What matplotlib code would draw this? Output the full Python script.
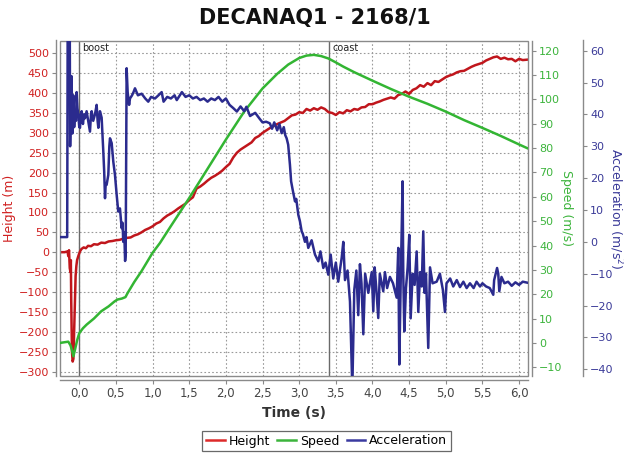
import numpy as np
import matplotlib.pyplot as plt
from matplotlib.patches import Rectangle

# ---- data ----
height_t = [-0.26, -0.20, -0.16, -0.15, -0.14, -0.13, -0.12, -0.115, -0.11, -0.10,
            -0.09, -0.08, -0.07, -0.06, -0.05, -0.04, -0.03, -0.01, 0.01, 0.03,
            0.06, 0.09, 0.12, 0.16, 0.20, 0.25, 0.30, 0.35, 0.40, 0.45,
            0.50, 0.55, 0.60, 0.65, 0.70, 0.75, 0.80, 0.85, 0.90, 0.95,
            1.00, 1.05, 1.10, 1.15, 1.20, 1.25, 1.30, 1.35, 1.40, 1.45,
            1.50, 1.55, 1.60, 1.65, 1.70, 1.75, 1.80, 1.85, 1.90, 1.95,
            2.00, 2.05, 2.10, 2.15, 2.20, 2.25, 2.30, 2.35, 2.40, 2.45,
            2.50, 2.55, 2.60, 2.65, 2.70, 2.75, 2.80, 2.85, 2.90, 2.95,
            3.00, 3.05, 3.10, 3.15, 3.20, 3.25, 3.30, 3.35, 3.40, 3.45,
            3.50, 3.55, 3.60, 3.65, 3.70, 3.75, 3.80, 3.85, 3.90, 3.95,
            4.00, 4.05, 4.10, 4.15, 4.20, 4.25, 4.30, 4.35, 4.40, 4.45,
            4.50, 4.55, 4.60, 4.65, 4.70, 4.75, 4.80, 4.85, 4.90, 4.95,
            5.00, 5.05, 5.10, 5.15, 5.20, 5.25, 5.30, 5.35, 5.40, 5.45,
            5.50, 5.55, 5.60, 5.65, 5.70, 5.75, 5.80, 5.85, 5.90, 5.95,
            6.00, 6.05, 6.11]
height_m = [0, 0, 2, -10, 5, -40, -50, -20, -120, -250,
            -275, -268, -200, -130, -60, -35, -20, -8, 2, 8,
            12, 10, 16, 15, 20, 19, 24, 23, 27, 28,
            30, 31, 34, 36, 37, 42, 45, 50, 56, 60,
            65, 72, 76, 85, 92, 97, 103, 110, 116, 122,
            131, 138, 160, 165, 172, 180, 187, 192, 198, 205,
            214, 222, 238, 250, 258, 264, 270, 276, 287, 292,
            300, 306, 312, 317, 322, 326, 330, 337, 344, 346,
            352, 350, 360, 356, 362, 358, 364, 360, 352, 350,
            345, 352, 349, 357, 354, 360, 358, 364, 365, 372,
            372, 376, 379, 383, 386, 389, 386, 395, 398, 404,
            398, 408, 412, 420, 416, 425, 420, 430, 428, 434,
            440, 444, 447, 452, 455, 456, 461, 466, 470, 473,
            476, 482, 486, 490, 492, 486, 489, 485, 486, 480,
            486, 483, 484]

speed_t = [-0.26, -0.15, -0.12, -0.10, -0.08, -0.06, -0.03, 0.00, 0.05, 0.10,
           0.20, 0.30, 0.40, 0.48, 0.52, 0.58, 0.63, 0.66, 0.75, 0.85,
           1.00, 1.10, 1.25, 1.50, 1.75, 2.00, 2.25, 2.50, 2.70, 2.85,
           3.00, 3.10, 3.20, 3.30, 3.40, 3.50, 3.60, 3.75, 4.00, 4.25,
           4.50, 4.75, 5.00, 5.25, 5.50, 5.75, 6.00, 6.11]
speed_ms = [0, 0.5, -1, -3, -5.5, -3, 1, 4, 6, 7.5,
            10, 13, 15, 17, 17.8, 18.2, 18.8, 20.5, 25, 29.5,
            37, 41, 48, 59.5, 71.5, 83.5, 95, 104.5, 110.5, 114.3,
            117, 118, 118.3, 117.8, 116.8, 115.2, 113.5, 111.2, 107.7, 104.3,
            101.1, 98.2, 95, 91.5, 88.3, 85, 81.5, 80]

accel_t = [-0.26, -0.165, -0.158, -0.150, -0.13, -0.125, -0.115, -0.105, -0.095, -0.082,
           -0.07, -0.059, -0.045, -0.036, -0.025, -0.014, 0.00, 0.01, 0.02, 0.033,
           0.05, 0.065, 0.078, 0.10, 0.123, 0.146, 0.16, 0.169, 0.19, 0.214,
           0.237, 0.25, 0.26, 0.282, 0.305, 0.328, 0.34, 0.351, 0.36, 0.373,
           0.396, 0.41, 0.419, 0.442, 0.464, 0.487, 0.51, 0.532, 0.555, 0.578,
           0.59, 0.60, 0.614, 0.625, 0.633, 0.646, 0.66, 0.68, 0.692, 0.72,
           0.74, 0.76, 0.80, 0.851, 0.90, 0.941, 0.98, 1.033, 1.08, 1.124,
           1.15, 1.20, 1.25, 1.30, 1.33, 1.40, 1.45, 1.50, 1.55, 1.60,
           1.65, 1.70, 1.75, 1.80, 1.85, 1.90, 1.95, 2.00, 2.05, 2.10,
           2.15, 2.20, 2.25, 2.28, 2.33, 2.40, 2.465, 2.50, 2.55, 2.60,
           2.63, 2.66, 2.70, 2.73, 2.761, 2.79, 2.81, 2.829, 2.85, 2.874,
           2.89, 2.91, 2.943, 2.96, 2.988, 3.01, 3.034, 3.05, 3.079, 3.10,
           3.124, 3.17, 3.216, 3.261, 3.29, 3.329, 3.36, 3.397, 3.43, 3.465,
           3.50, 3.533, 3.58, 3.602, 3.625, 3.66, 3.693, 3.725, 3.752, 3.78,
           3.806, 3.829, 3.85, 3.875, 3.90, 3.943, 3.99, 4.011, 4.03, 4.05,
           4.079, 4.10, 4.147, 4.17, 4.20, 4.238, 4.28, 4.33, 4.352, 4.366,
           4.384, 4.411, 4.42, 4.434, 4.457, 4.48, 4.502, 4.521, 4.548, 4.575,
           4.603, 4.625, 4.65, 4.672, 4.693, 4.71, 4.73, 4.761, 4.785, 4.82,
           4.876, 4.92, 4.96, 4.989, 5.01, 5.06, 5.102, 5.15, 5.194, 5.24,
           5.285, 5.33, 5.38, 5.42, 5.467, 5.50, 5.55, 5.60, 5.648, 5.66,
           5.70, 5.716, 5.73, 5.76, 5.80, 5.85, 5.90, 5.95, 6.00, 6.05,
           6.11]
accel_ms2 = [1.5, 1.5, 70, 70, 70, 30, 44, 52, 34, 46,
             36, 40, 38, 47, 42, 40, 36, 35.8, 40, 41,
             37, 40, 38.8, 41, 37.7, 34.6, 40, 41, 38, 40,
             43, 38, 35.8, 41, 39, 28.3, 22, 13.7, 18, 17.9,
             21, 30, 32.5, 31, 25.2, 21, 14.8, 9.5, 10.5, 4.3,
             6, 0, 3, -6, -4, 54.5, 47, 43, 45, 46,
             47, 48.2, 46, 46.5, 45, 44, 45.5, 45, 46, 47,
             44, 45.5, 45, 46, 44.5, 47, 45.5, 46, 45, 45.5,
             44.5, 45, 44, 45, 44.5, 45.5, 44, 45, 43, 42,
             40.9, 42.5, 41, 42.4, 39.5, 40.5, 38.5, 37.5, 37.7, 37.2,
             35.5, 37.5, 35, 37, 34.1, 36, 33.5, 32.5, 30.5, 24.2,
             19, 16.5, 12.7, 13.5, 8.5, 6.5, 3.3, 2.5, 0, 1.5,
             -1.9, 0.5, -4, -6.1, -3, -8.2, -6.5, -10.3, -4, -11.5,
             -6.5, -12.5, -5, 0, -12, -9, -18.7, -46, -15, -9,
             -23, -7, -13, -29, -10, -16, -9.5, -21.8, -8, -14,
             -23.9, -10, -15.5, -9.5, -14.5, -11, -13, -17.5, -1.9, -38.5,
             -14, 19, -10, -28.1, -14.5, -8, 2.2, -24, -10, -13.5,
             -3, -22, -9.5, -14, 3.3, -16, -10, -33.3, -8, -13,
             -12.5, -10, -15, -22, -13, -11.5, -14, -12, -14.2, -12.5,
             -14.5, -13, -14.5, -12.5, -14, -13, -14, -14.5, -16.6, -12,
             -8.2, -10, -15.5, -11, -13, -12.5, -13.8, -12.7, -13.5, -12.5,
             -12.8]

phase_t = [0.0, 3.41]
phase_names = ["boost", "coast"]

time_ticks = [0.0, 0.5, 1.0, 1.5, 2.0, 2.5, 3.0, 3.5, 4.0, 4.5, 5.0, 5.5, 6.0]
height_ticks = list(range(-300, 501, 50))
speed_ticks = list(range(-10, 121, 10))
accel_ticks = list(range(-40, 61, 10))

RED = "#c0161c"
GREEN = "#33b533"
BLUE = "#2b2b8e"
RED_TXT = "#d02020"
GREEN_TXT = "#3cb43c"
BLUE_TXT = "#3a3a98"
AX_GRAY = "#8a8a8a"


def main():
    W, H = 624, 455
    fig = plt.figure(figsize=(W / 100, H / 100), dpi=100)
    left, right, top, bottom = 60, 527.5, 40.5, 376
    ax = fig.add_axes([left / W, 1 - bottom / H, (right - left) / W, (bottom - top) / H])
    ax2 = ax.twinx()
    ax3 = ax.twinx()

    ax.set_xlim(-0.263, 6.115)
    ax.set_ylim(-311.3, 532.2)
    ax2.set_ylim(-13.6, 124.2)
    ax3.set_ylim(-42.1, 63.2)

    # grid
    ax.set_xticks(time_ticks)
    ax.set_yticks(height_ticks)
    ax.grid(True, color="#9a9a9a", linestyle=(0, (1.5, 2)), linewidth=0.8)
    ax.set_axisbelow(True)

    # phase markers
    for t, name in zip(phase_t, phase_names):
        ax.axvline(t, color="#6a6a6a", linewidth=1.0, zorder=1)
        ax.text(t + 0.04, 527, name, fontsize=7, color="#222222", va="top", ha="left")

    ax.plot(height_t, height_m, color=RED, linewidth=1.8, zorder=3)
    ax2.plot(speed_t, speed_ms, color=GREEN, linewidth=1.8)
    ax3.plot(accel_t, accel_ms2, color=BLUE, linewidth=1.8)

    # plot frame
    ax.add_patch(Rectangle((0, 0), 1, 1, transform=ax.transAxes, fill=False,
                           edgecolor=AX_GRAY, linewidth=1.0, zorder=5, clip_on=False))

    # spines
    for a in (ax, ax2, ax3):
        for s in a.spines.values():
            s.set_visible(False)
    ax.spines["left"].set_visible(True)
    ax.spines["left"].set_position(("outward", 3))
    ax.spines["bottom"].set_visible(True)
    ax.spines["bottom"].set_position(("outward", 3))
    ax2.spines["right"].set_visible(True)
    ax2.spines["right"].set_position(("outward", 3.3))
    ax3.spines["right"].set_visible(True)
    ax3.spines["right"].set_position(("outward", 40))
    for s in (ax.spines["left"], ax.spines["bottom"], ax2.spines["right"], ax3.spines["right"]):
        s.set_color(AX_GRAY)
        s.set_linewidth(1.0)

    ax.set_xticklabels([f"{v:.1f}".replace(".", ",") for v in time_ticks])
    ax.tick_params(axis="x", colors=AX_GRAY, labelcolor="#444444", labelsize=8.5,
                   length=3, width=0.8, pad=2)
    ax.tick_params(axis="y", colors=AX_GRAY, labelcolor=RED_TXT, labelsize=8,
                   length=3, width=0.8, pad=2)
    ax2.set_yticks(speed_ticks)
    ax2.tick_params(axis="y", colors=AX_GRAY, labelcolor=GREEN_TXT, labelsize=8,
                    length=3, width=0.8, pad=2)
    ax3.set_yticks(accel_ticks)
    ax3.tick_params(axis="y", colors=AX_GRAY, labelcolor=BLUE_TXT, labelsize=8,
                    length=3, width=0.8, pad=2)

    ax.set_xlabel("Time (s)", fontsize=10, fontweight="bold", color="#333333", labelpad=4)
    ax.set_ylabel("Height (m)", fontsize=9, color=RED_TXT, labelpad=2)
    ax2.set_ylabel("Speed (m/s)", fontsize=9, color=GREEN_TXT, rotation=270,
                   va="center", ha="center")
    ax3.set_ylabel("Acceleration (m/s$^2$)", fontsize=9, color=BLUE_TXT,
                   rotation=270, va="center", ha="center")
    pw = right - left
    ax2.yaxis.set_label_coords((567 - left) / pw, 0.5)
    ax3.yaxis.set_label_coords((616 - left) / pw, 0.5)

    fig.text(315 / W, 1 - 18 / H, "DECANAQ1 - 2168/1", fontsize=15, fontweight="bold",
             ha="center", va="center", color="#111111")

    handles = [plt.Line2D([], [], color="#dd2a2a", linewidth=1.8),
               plt.Line2D([], [], color="#3cb43c", linewidth=1.8),
               plt.Line2D([], [], color="#3a3aa0", linewidth=1.8)]
    leg = fig.legend(handles, ["Height", "Speed", "Acceleration"], loc="center",
                     bbox_to_anchor=(326.5 / W, 1 - 441 / H), ncol=3, fontsize=9,
                     frameon=True, fancybox=False, handlelength=1.5,
                     handletextpad=0.3, columnspacing=0.6, borderpad=0.3)
    leg.get_frame().set_edgecolor("#444444")
    leg.get_frame().set_linewidth(0.9)

    fig.savefig("out.png", dpi=100)


if __name__ == "__main__":
    main()
